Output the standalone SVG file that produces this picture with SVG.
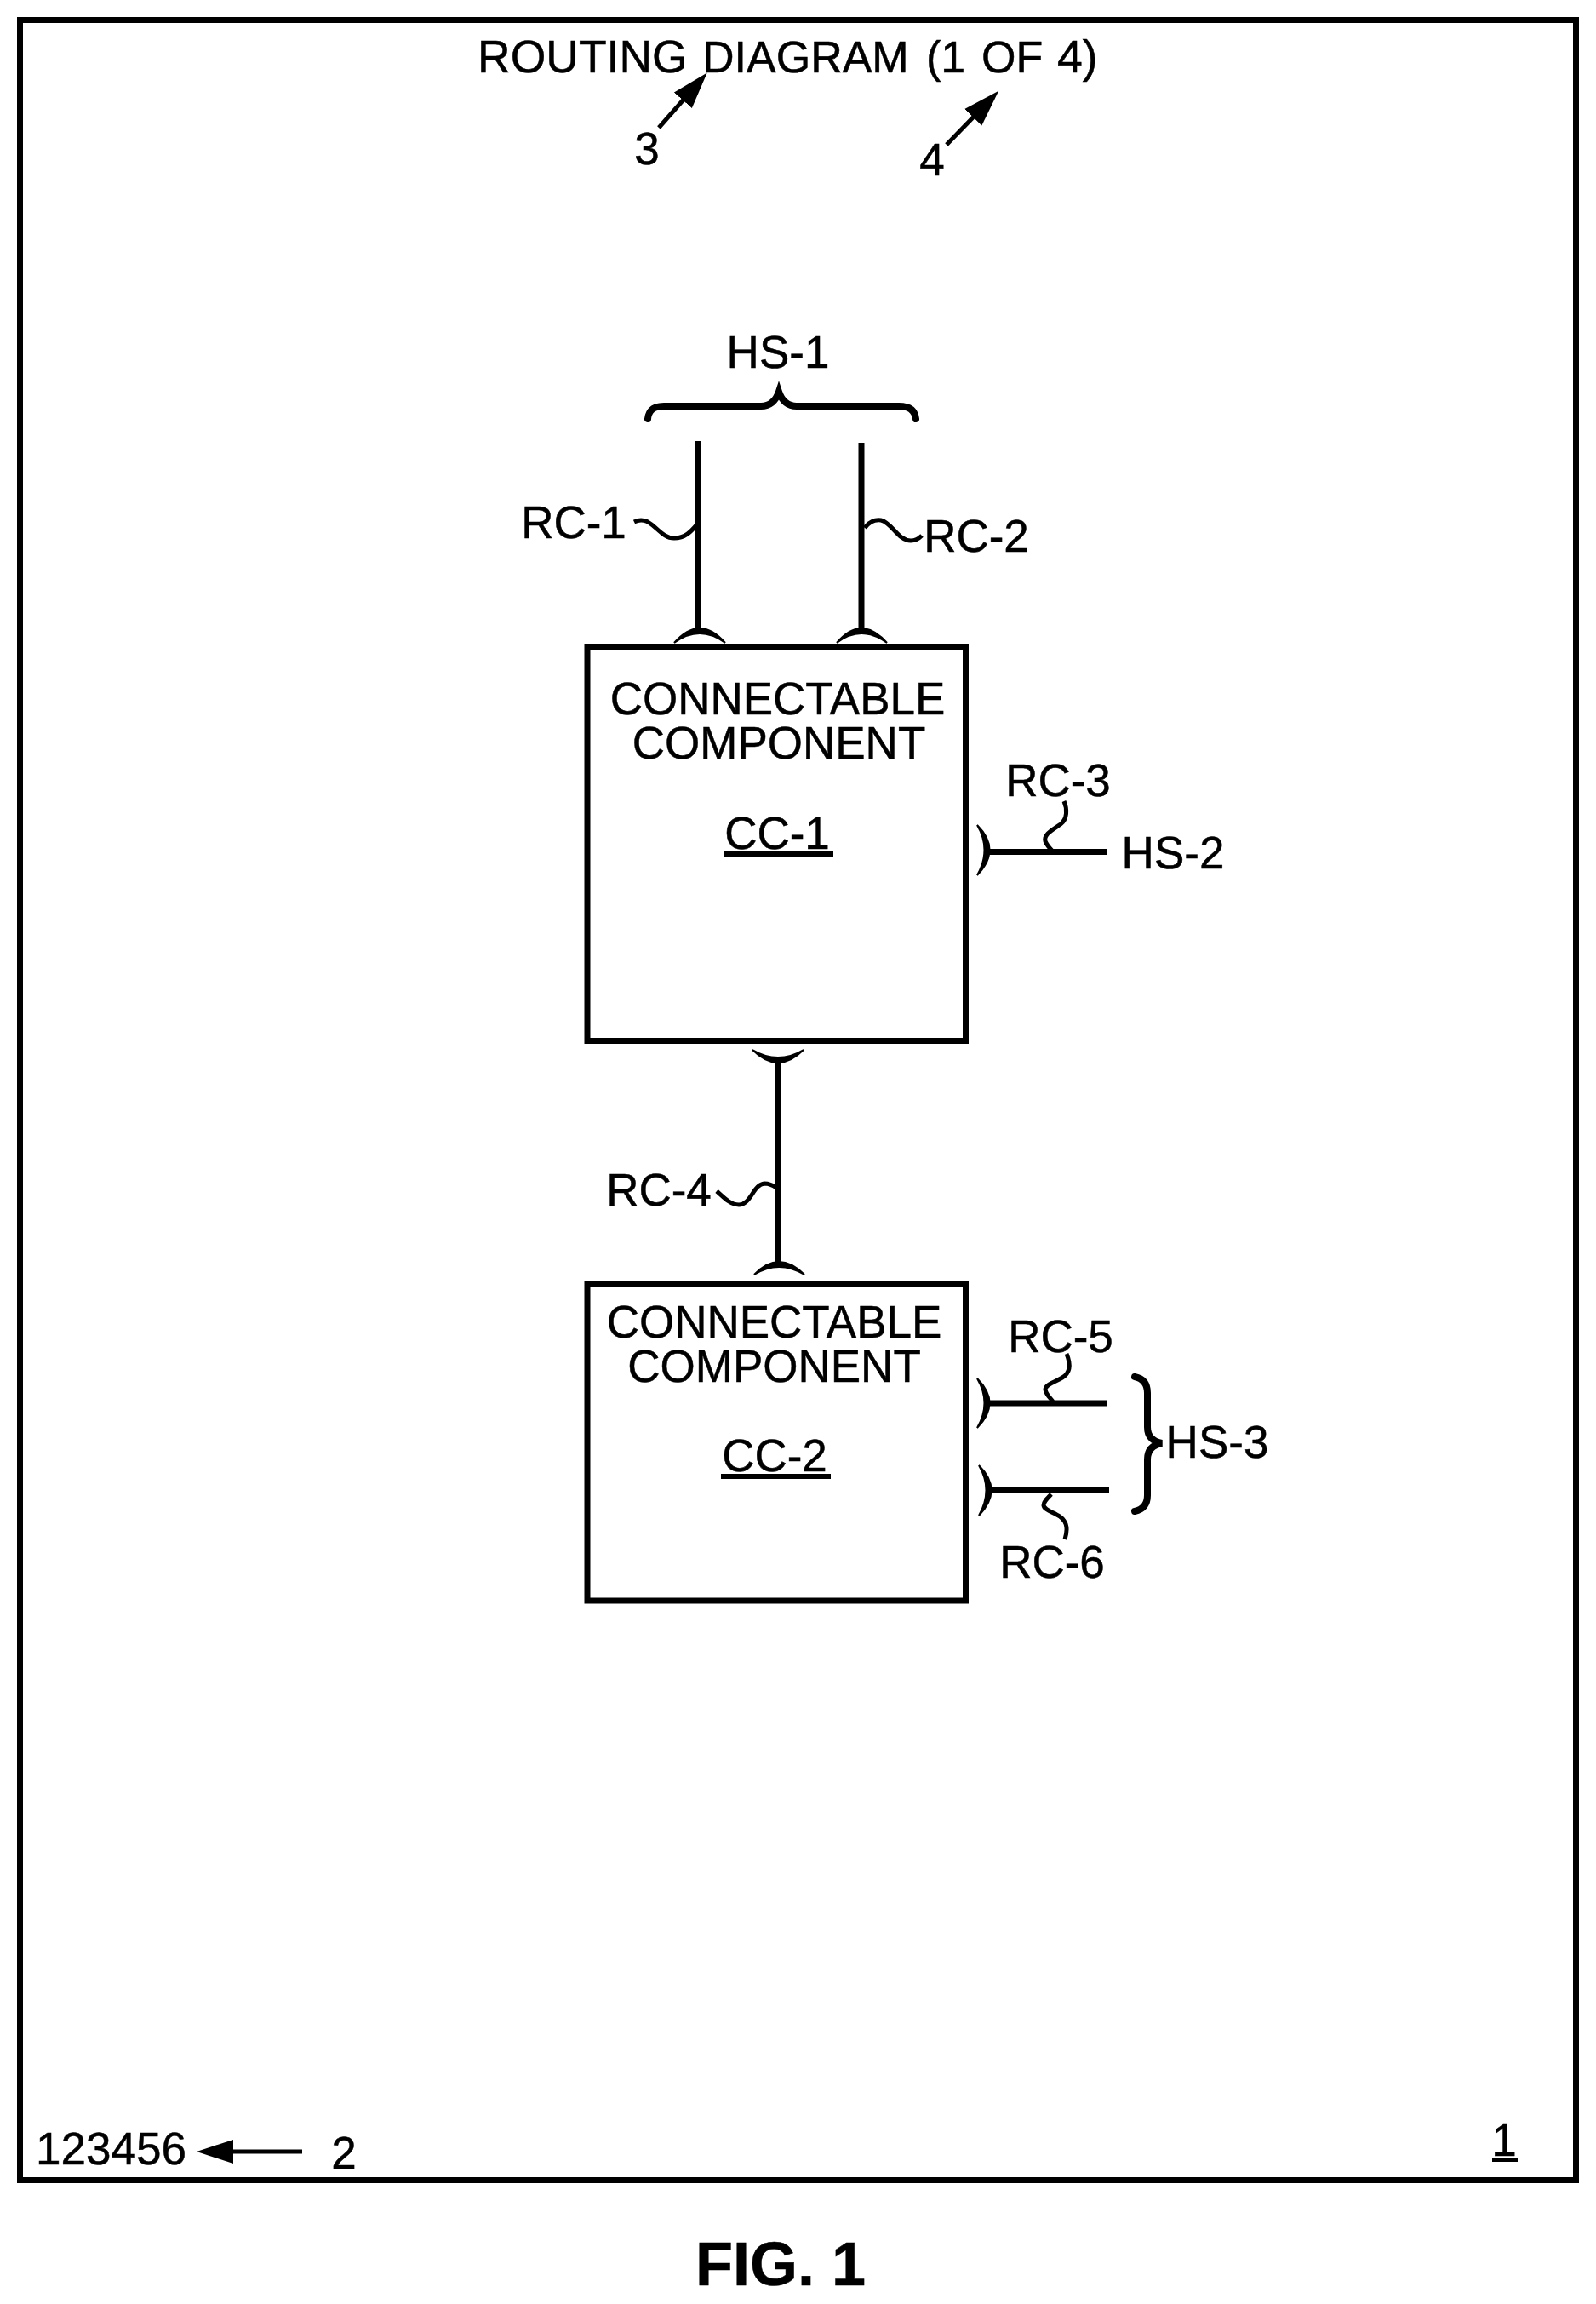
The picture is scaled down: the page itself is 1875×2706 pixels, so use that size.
<svg xmlns="http://www.w3.org/2000/svg" width="1875" height="2706" viewBox="0 0 1875 2706">
<style>
text{font-family:"Liberation Sans",Arial,sans-serif;font-size:53px;fill:#000;stroke:#000;stroke-width:.5;text-anchor:middle}
.title{font-size:52px;text-anchor:start}
.fig{font-size:72px;font-weight:bold}
.box{fill:none;stroke:#000;stroke-width:7}
.wire{fill:none;stroke:#000;stroke-width:7}
.arc{fill:#000;stroke:#000;stroke-width:2}
.sq{fill:none;stroke:#000;stroke-width:5}
.brace{fill:none;stroke:#000;stroke-width:8;stroke-linecap:round}
.lead{fill:none;stroke:#000;stroke-width:5}
.u{fill:#000}
</style>
<defs>
<marker id="head" markerUnits="userSpaceOnUse" markerWidth="46" markerHeight="30" refX="1" refY="14.5" orient="auto">
<path d="M0 0.5L43 14.500L0 28.500z" fill="#000"/>
</marker>
</defs>
<rect width="1875" height="2706" fill="#fff"/>
<g id="frame">
<rect class="box" x="23.500" y="23.500" width="1828" height="2537"/>
</g>
<g id="title"><text class="title" y="85"><tspan x="561" style="font-size:53.500px">ROUTING</tspan> <tspan x="825">DIAGRAM</tspan> <tspan x="1088">(1</tspan> <tspan x="1153">OF</tspan> <tspan x="1242" style="font-size:53.500px">4)</tspan></text></g>
<g id="ref-3"><text x="760" y="193">3</text></g>
<g id="ref-4"><text x="1095" y="206">4</text></g>
<g id="ref-2"><text x="404" y="2547">2</text></g>
<g id="code"><text x="130.500" y="2542">123456</text></g>
<g id="sheet"><text x="1767" y="2532">1</text><rect class="u" x="1753" y="2535" width="30" height="4"/></g>
<g id="cc-1">
<rect class="box" x="690" y="759.500" width="444.500" height="463"/>
<text x="913.500" y="839">CONNECTABLE</text>
<text x="915" y="891">COMPONENT</text>
<text x="913" y="997">CC-1</text>
<rect class="u" x="850" y="1000" width="129" height="6"/>
</g>
<g id="cc-2">
<rect class="box" x="690" y="1508" width="444.500" height="372"/>
<text x="909.500" y="1571">CONNECTABLE</text>
<text x="909.500" y="1623">COMPONENT</text>
<text x="910" y="1728">CC-2</text>
<rect class="u" x="847" y="1731" width="129" height="6"/>
</g>
<g id="hs-1"><text x="914" y="432">HS-1</text></g>
<g id="hs-2"><text x="1378" y="1020">HS-2</text></g>
<g id="hs-3"><text x="1430" y="1712">HS-3</text></g>
<g id="rc-1"><text x="674" y="632">RC-1</text></g>
<g id="rc-2"><text x="1147" y="648">RC-2</text></g>
<g id="rc-3"><text x="1243" y="935">RC-3</text></g>
<g id="rc-4"><text x="774" y="1416">RC-4</text></g>
<g id="rc-5"><text x="1246" y="1588">RC-5</text></g>
<g id="rc-6"><text x="1236" y="1853">RC-6</text></g>
<g id="fig"><text class="fig" x="917" y="2684">FIG. 1</text></g>
<g id="connectors">
<path class="lead" d="M774 150L803 117" marker-end="url(#head)"/>
<path class="lead" d="M1112 170L1144 137" marker-end="url(#head)"/>
<path class="lead" d="M355 2527L273 2527" marker-end="url(#head)"/>
<path class="brace" d="M761 492C762 482 768 477 780 477H894C904 477 911 472 915 460C919 472 926 477 936 477H1056C1068 477 1075 482 1076 492"/>
<path class="wire" d="M820.500 518V740"/>
<path class="wire" d="M1012 520V740"/>
<path class="arc" d="M792 755Q822 721 852 755Q822 733 792 755z"/>
<path class="arc" d="M983 755Q1012 721 1042 755Q1012 733 983 755z"/>
<path class="sq" d="M745 613C765 603 773 632 792 632C805 632 812 624 818 617"/>
<path class="sq" d="M1016 620C1022 612 1028 610 1035 611C1048 614 1055 635 1070 635C1076 635 1080 632 1083 629"/>
<path class="wire" d="M1162 1000.500H1300"/>
<path class="arc" d="M1148 969Q1177 998 1148 1028Q1165 998 1148 969z"/>
<path class="sq" d="M1250 941C1254 950 1254 962 1246 968C1236 975 1226 980 1228 988C1230 993 1233 996 1236 999"/>
<path class="wire" d="M914.500 1247V1482"/>
<path class="arc" d="M884 1233Q914 1263 944 1233Q914 1251 884 1233z"/>
<path class="arc" d="M886 1497Q915 1467 945 1497Q915 1479 886 1497z"/>
<path class="sq" d="M842 1399C850 1406 858 1415 868 1415C882 1415 885 1391 898 1390C904 1390 908 1392 912 1395"/>
<path class="wire" d="M1162 1648H1300"/>
<path class="arc" d="M1148 1619Q1177 1648 1148 1677Q1165 1648 1148 1619z"/>
<path class="sq" d="M1253 1590C1258 1602 1258 1612 1248 1618C1238 1624 1228 1626 1228 1632C1229 1638 1233 1641 1237 1646"/>
<path class="wire" d="M1163 1750H1303"/>
<path class="arc" d="M1150 1721Q1179 1750 1150 1780Q1167 1750 1150 1721z"/>
<path class="sq" d="M1235 1755C1230 1760 1226 1764 1226 1768C1227 1774 1238 1776 1245 1781C1255 1788 1254 1798 1251 1808"/>
<path class="brace" d="M1333 1617C1343 1619 1348 1625 1348 1636V1676C1348 1687 1354 1693 1365 1695C1354 1697 1348 1703 1348 1714V1756C1348 1767 1343 1773 1333 1775"/>
</g>
</svg>
